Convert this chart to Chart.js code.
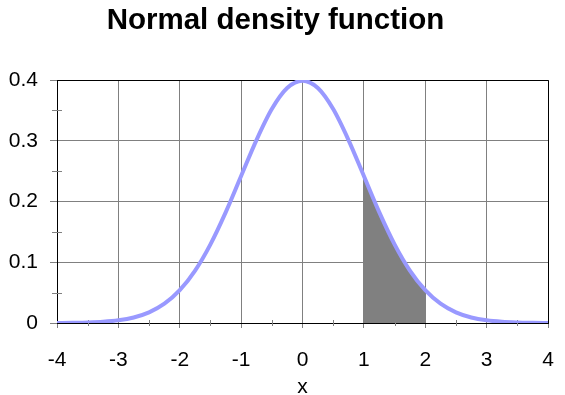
<!DOCTYPE html>
<html lang="en">
<head>
    <meta charset="UTF-8">
    <title>Normal density function</title>
    <script src="https://cdn.jsdelivr.net/npm/chart.js"></script>
    <style>
        body { margin: 0; background: #ffffff; }
        #chartBox { width: 565px; height: 395px; }
    </style>
</head>
<body>
    <div id="chartBox">
        <canvas id="densityChart" width="565" height="395"></canvas>
    </div>
    <script>
        // values
        const xValues = [-4, -3.75, -3.5, -3.25, -3, -2.75, -2.5, -2.25, -2, -1.75, -1.5, -1.25, -1, -0.75, -0.5, -0.25,
                         0, 0.25, 0.5, 0.75, 1, 1.25, 1.5, 1.75, 2, 2.25, 2.5, 2.75, 3, 3.25, 3.5, 3.75, 4];
        const densityValues = [0.0001, 0.0004, 0.0009, 0.002, 0.0044, 0.0091, 0.0175, 0.0317, 0.054, 0.0863, 0.1295, 0.1826,
                               0.242, 0.3011, 0.3521, 0.3867, 0.3989, 0.3867, 0.3521, 0.3011, 0.242, 0.1826, 0.1295, 0.0863,
                               0.054, 0.0317, 0.0175, 0.0091, 0.0044, 0.002, 0.0009, 0.0004, 0.0001];
        // shaded area between x = 1 and x = 2
        const shadeX = [1, 1.25, 1.5, 1.75, 2];
        const shadeY = [0.242, 0.1826, 0.1295, 0.0863, 0.054];

        const xMinorTicks = [-3.5, -2.5, -1.5, -0.5, 0.5, 1.5, 2.5, 3.5];
        const yMinorTicks = [0.05, 0.15, 0.25, 0.35];

        const curvePoints = xValues.map((x, i) => ({ x: x, y: densityValues[i] }));
        const shadePoints = shadeX.map((x, i) => ({ x: x, y: shadeY[i] }));

        const FONT = "'Liberation Sans', Arial, sans-serif";

        // frame around the plot area and the small minor ticks
        const framePlugin = {
            id: 'frame',
            beforeDatasetsDraw(chart) {
                const { ctx, chartArea: a, scales } = chart;
                ctx.save();
                ctx.strokeStyle = '#808080';
                ctx.lineWidth = 1;
                ctx.beginPath();
                xMinorTicks.forEach(v => {
                    const px = Math.round(scales.x.getPixelForValue(v)) + 0.5;
                    ctx.moveTo(px, a.bottom - 3);
                    ctx.lineTo(px, a.bottom + 3);
                });
                yMinorTicks.forEach(v => {
                    const py = Math.round(scales.y.getPixelForValue(v)) + 0.5;
                    ctx.moveTo(a.left - 5, py);
                    ctx.lineTo(a.left + 5, py);
                });
                ctx.stroke();
                ctx.strokeStyle = '#000000';
                ctx.beginPath();
                ctx.moveTo(Math.round(a.left) + 0.5, Math.round(a.top) + 0.5);
                ctx.lineTo(Math.round(a.right) + 0.5, Math.round(a.top) + 0.5);
                ctx.lineTo(Math.round(a.right) + 0.5, Math.round(a.bottom) + 0.5);
                ctx.stroke();
                ctx.restore();
            }
        };

        new Chart(document.getElementById('densityChart'), {
            type: 'scatter',
            data: {
                datasets: [
                    {
                        data: curvePoints,
                        showLine: true,
                        borderColor: '#9999ff',
                        borderWidth: 4,
                        pointRadius: 0,
                        cubicInterpolationMode: 'monotone',
                        fill: false
                    },
                    {
                        data: shadePoints,
                        showLine: true,
                        borderWidth: 0,
                        borderColor: 'rgba(0,0,0,0)',
                        backgroundColor: '#808080',
                        pointRadius: 0,
                        cubicInterpolationMode: 'monotone',
                        fill: 'origin'
                    }
                ]
            },
            options: {
                responsive: false,
                animation: false,
                layout: { padding: { left: 3, right: 17, top: 0, bottom: 0 } },
                plugins: {
                    legend: { display: false },
                    tooltip: { enabled: false },
                    title: {
                        display: true,
                        text: 'Normal density function',
                        color: '#000000',
                        font: { family: FONT, size: 29.5, weight: 'bold' },
                        padding: { top: 3, bottom: 41.6 }
                    }
                },
                scales: {
                    x: {
                        type: 'linear',
                        min: -4,
                        max: 4,
                        afterFit(scale) {
                            scale.height = 72;
                            scale.paddingLeft = 0;
                            scale.paddingRight = 0;
                        },
                        ticks: {
                            stepSize: 1,
                            color: '#000000',
                            padding: 20,
                            font: { family: FONT, size: 21 }
                        },
                        grid: { color: '#808080', tickColor: '#808080', tickLength: 5 },
                        border: { color: '#000000', width: 1 },
                        title: {
                            display: true,
                            text: 'x',
                            color: '#000000',
                            font: { family: FONT, size: 21, lineHeight: 0.7 },
                            padding: { top: 0, bottom: 0 }
                        }
                    },
                    y: {
                        type: 'linear',
                        min: 0,
                        max: 0.4,
                        afterFit(scale) { scale.width = 54; },
                        ticks: {
                            stepSize: 0.1,
                            color: '#000000',
                            padding: 12,
                            font: { family: FONT, size: 21 },
                            callback: v => String(Number(v.toFixed(1)))
                        },
                        grid: { color: '#808080', tickColor: '#808080', tickLength: 7 },
                        border: { color: '#000000', width: 1 }
                    }
                }
            },
            plugins: [framePlugin]
        });
    </script>
</body>
</html>
